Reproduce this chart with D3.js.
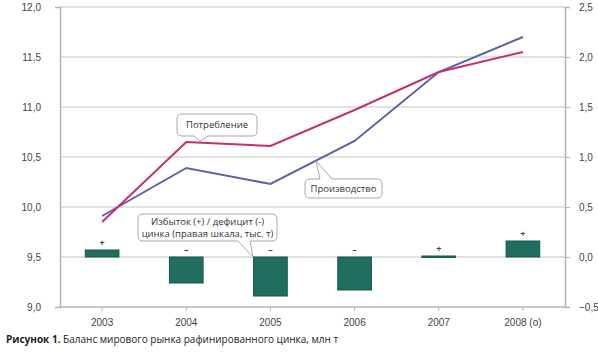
<!DOCTYPE html>
<html>
<head>
<meta charset="utf-8">
<script src="https://cdn.jsdelivr.net/npm/d3@7"></script>
<style>
    body { margin: 0; background: #fff; }
    svg { font-family: "Open Sans", "DejaVu Sans", sans-serif; }
</style>
</head>
<body>
<div id="chart"></div>
<script>
'use strict';

// data
const years = ['2003', '2004', '2005', '2006', '2007', '2008 (о)'];
const production = [9.91, 10.39, 10.23, 10.66, 11.35, 11.70];
const consumption = [9.85, 10.65, 10.61, 10.97, 11.35, 11.55];
const balance = [0.07, -0.26, -0.39, -0.33, 0.01, 0.16];
const balanceSigns = ['+', '–', '–', '–', '+', '+'];
const leftTicks = [9.0, 9.5, 10.0, 10.5, 11.0, 11.5, 12.0];
const rightTicks = [-0.5, 0.0, 0.5, 1.0, 1.5, 2.0, 2.5];

const width = 598, height = 352;
const margin = {top: 7, right: 33, bottom: 45, left: 60};
const w = width - margin.left - margin.right;
const h = height - margin.top - margin.bottom;

const fmt = d => d3.format('.1f')(d).replace('.', ',');

const svg = d3.select('#chart').append('svg')
    .attr('width', width)
    .attr('height', height);

const g = svg.append('g')
    .attr('transform', 'translate(' + margin.left + ',' + margin.top + ')');

const x = d3.scaleBand().domain(years).range([0, w]).paddingInner(0.6).paddingOuter(0.3);
const xc = d => x(d) + x.bandwidth() / 2;
const yL = d3.scaleLinear().domain([9, 12]).range([h, 0]);
const yR = d3.scaleLinear().domain([-0.5, 2.5]).range([h, 0]);

// grid
g.selectAll('.grid').data(leftTicks.slice(1)).enter()
    .append('line')
    .attr('x1', 0).attr('x2', w)
    .attr('y1', d => yL(d)).attr('y2', d => yL(d))
    .style('stroke', '#c4c4c4')
    .style('stroke-width', 1.2);

// left axis
const axL = g.append('g')
    .call(d3.axisLeft(yL).tickValues(leftTicks).tickFormat(fmt).tickSize(5).tickPadding(14));
// right axis
const axR = g.append('g')
    .attr('transform', 'translate(' + w + ',0)')
    .call(d3.axisRight(yR).tickValues(rightTicks).tickFormat(fmt).tickSize(5).tickPadding(9));
// bottom axis
const axB = g.append('g')
    .attr('transform', 'translate(0,' + h + ')')
    .call(d3.axisBottom(x).tickSize(4).tickPadding(8));

[axL, axR, axB].forEach(function (a) {
    a.select('.domain').style('stroke', '#b5b5b5').style('stroke-width', 1.5);
    a.selectAll('.tick line').style('stroke', '#b5b5b5');
    a.selectAll('.tick text').style('fill', '#444').style('font-size', '10px');
});
axL.selectAll('.tick line').attr('x2', 0).attr('x1', 0);
axB.select('.domain').attr('d', 'M0,0H' + w);

// bars on the right scale
g.selectAll('.bar').data(balance).enter()
    .append('rect')
    .attr('x', (d, i) => x(years[i]))
    .attr('width', x.bandwidth())
    .attr('y', d => yR(Math.max(0, d)))
    .attr('height', d => Math.max(1.5, Math.abs(yR(d) - yR(0))))
    .style('fill', '#1f6e5f')
    .style('stroke', '#17574a')
    .style('stroke-width', 1);

g.selectAll('.sign').data(balance).enter()
    .append('text')
    .attr('x', (d, i) => xc(years[i]))
    .attr('y', d => yR(Math.max(0, d)) - 4)
    .attr('text-anchor', 'middle')
    .style('font-size', '9px')
    .style('font-weight', 'bold')
    .style('fill', '#444')
    .text((d, i) => balanceSigns[i]);

// lines
function drawLine(values, color, width) {
    const line = d3.line()
        .x((d, i) => xc(years[i]))
        .y(d => yL(d));
    g.append('path')
        .attr('d', line(values))
        .style('fill', 'none')
        .style('stroke', color)
        .style('stroke-width', width);
}
drawLine(production, '#5b62a6', 2);
drawLine(consumption, '#c42f72', 2);

// callouts, in page coordinates
function callout(x0, y0, bw, bh, lines, px1, px2, tipX, tipY, fromTop) {
    const grp = svg.append('g');
    const r = 5;
    let path;
    if (fromTop) {
        path = 'M' + (x0 + r) + ',' + y0 + 'H' + px1 + 'L' + tipX + ',' + tipY + 'L' + px2 + ',' + y0 +
            'H' + (x0 + bw - r) + 'Q' + (x0 + bw) + ',' + y0 + ' ' + (x0 + bw) + ',' + (y0 + r) +
            'V' + (y0 + bh - r) + 'Q' + (x0 + bw) + ',' + (y0 + bh) + ' ' + (x0 + bw - r) + ',' + (y0 + bh) +
            'H' + (x0 + r) + 'Q' + x0 + ',' + (y0 + bh) + ' ' + x0 + ',' + (y0 + bh - r) +
            'V' + (y0 + r) + 'Q' + x0 + ',' + y0 + ' ' + (x0 + r) + ',' + y0 + 'Z';
    } else {
        path = 'M' + (x0 + r) + ',' + y0 + 'H' + (x0 + bw - r) +
            'Q' + (x0 + bw) + ',' + y0 + ' ' + (x0 + bw) + ',' + (y0 + r) +
            'V' + (y0 + bh - r) + 'Q' + (x0 + bw) + ',' + (y0 + bh) + ' ' + (x0 + bw - r) + ',' + (y0 + bh) +
            'H' + px2 + 'L' + tipX + ',' + tipY + 'L' + px1 + ',' + (y0 + bh) +
            'H' + (x0 + r) + 'Q' + x0 + ',' + (y0 + bh) + ' ' + x0 + ',' + (y0 + bh - r) +
            'V' + (y0 + r) + 'Q' + x0 + ',' + y0 + ' ' + (x0 + r) + ',' + y0 + 'Z';
    }
    grp.append('path')
        .attr('d', path)
        .style('fill', '#fff')
        .style('stroke', '#a8a8a8')
        .style('stroke-width', 1);
    const lh = 12.5;
    const startY = y0 + bh / 2 - (lines.length - 1) * lh / 2 + 3.3;
    lines.forEach(function (t, i) {
        grp.append('text')
            .attr('x', x0 + bw / 2)
            .attr('y', startY + i * lh)
            .attr('text-anchor', 'middle')
            .style('font-size', '9.5px')
            .style('fill', '#333')
            .text(t);
    });
}

callout(177, 114, 80, 22, ['Потребление'], 194, 208, 200, 141, false);
callout(305, 179, 77, 19, ['Производство'], 320, 332, 316, 161, true);
callout(138, 214, 139, 27, ['Избыток (+) / дефицит (-)', 'цинка (правая шкала, тыс. т)'], 238, 250, 253, 257, false);

// caption
const cap = svg.append('text')
    .attr('x', 6)
    .attr('y', 343)
    .style('font-size', '10px')
    .style('fill', '#222');
cap.append('tspan').style('font-weight', 'bold').text('Рисунок 1. ');
cap.append('tspan').text('Баланс мирового рынка рафинированного цинка, млн т');
</script>
</body>
</html>
